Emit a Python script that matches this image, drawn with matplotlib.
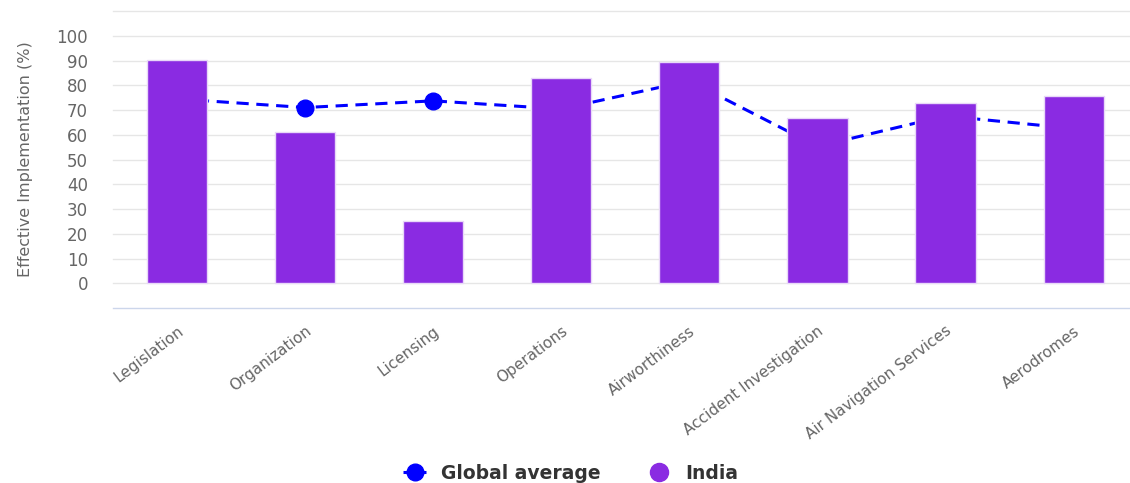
import numpy as np
import matplotlib.pyplot as plt
from matplotlib.lines import Line2D

categories = ["Legislation", "Organization", "Licensing", "Operations",
              "Airworthiness", "Accident Investigation",
              "Air Navigation Services", "Aerodromes"]
india = [90.3, 61.1, 25.2, 82.9, 89.3, 66.9, 73.0, 75.6]
global_avg = [74.5, 71.0, 73.7, 70.4, 81.8, 55.3, 67.6, 62.5]
yticks = [0, 10, 20, 30, 40, 50, 60, 70, 80, 90, 100]

bar_color = "#8a2be2"
line_color = "#0000ff"

fig = plt.figure(figsize=(11.3, 4.83), dpi=100)
ax = fig.add_axes([0.1, 0.3623, 0.9, 0.6149])

x = np.arange(len(categories))

# horizontal grid, including the lines above 100 and below 0
for g in range(-10, 111, 10):
    ax.axhline(g, color="#ccd6eb" if g == -10 else "#e6e6e6",
               lw=1.0, zorder=0, clip_on=False)

ax.plot(x, global_avg, color=line_color, lw=2.2, ls=(0, (4, 2.5)),
        marker="o", markersize=12, zorder=2)
ax.bar(x, india, width=0.47, color=bar_color, edgecolor="#e8d8f8",
       linewidth=1.0, zorder=3)

ax.set_xlim(-0.5, 7.44)
ax.set_ylim(-10, 110)
ax.set_yticks(yticks)
ax.set_yticklabels([str(v) for v in yticks], fontsize=12, color="#666666")
ax.set_xticks(x)
ax.set_xticklabels(categories, rotation=37, ha="right", rotation_mode="anchor",
                   fontsize=11, color="#666666")
ax.tick_params(axis="both", length=0)
ax.tick_params(axis="x", pad=11)
ax.tick_params(axis="y", pad=18)
for s in ax.spines.values():
    s.set_visible(False)
ax.set_ylabel("Effective Implementation (%)", fontsize=11.5, color="#666666",
              labelpad=17)

handles = [
    Line2D([], [], color=line_color, lw=2.2, ls=(0, (4, 2.5)), marker="o",
           markersize=12),
    Line2D([], [], color=bar_color, lw=0, marker="o", markersize=13),
]
fig.legend(handles, ["Global average", "India"], loc="center",
           bbox_to_anchor=(0.505, 0.02), ncol=2, frameon=False,
           prop={"weight": "bold", "size": 13.5}, labelcolor="#333333",
           handlelength=1.2, columnspacing=2.5, handletextpad=0.8)

fig.savefig("out.png", dpi=100)
